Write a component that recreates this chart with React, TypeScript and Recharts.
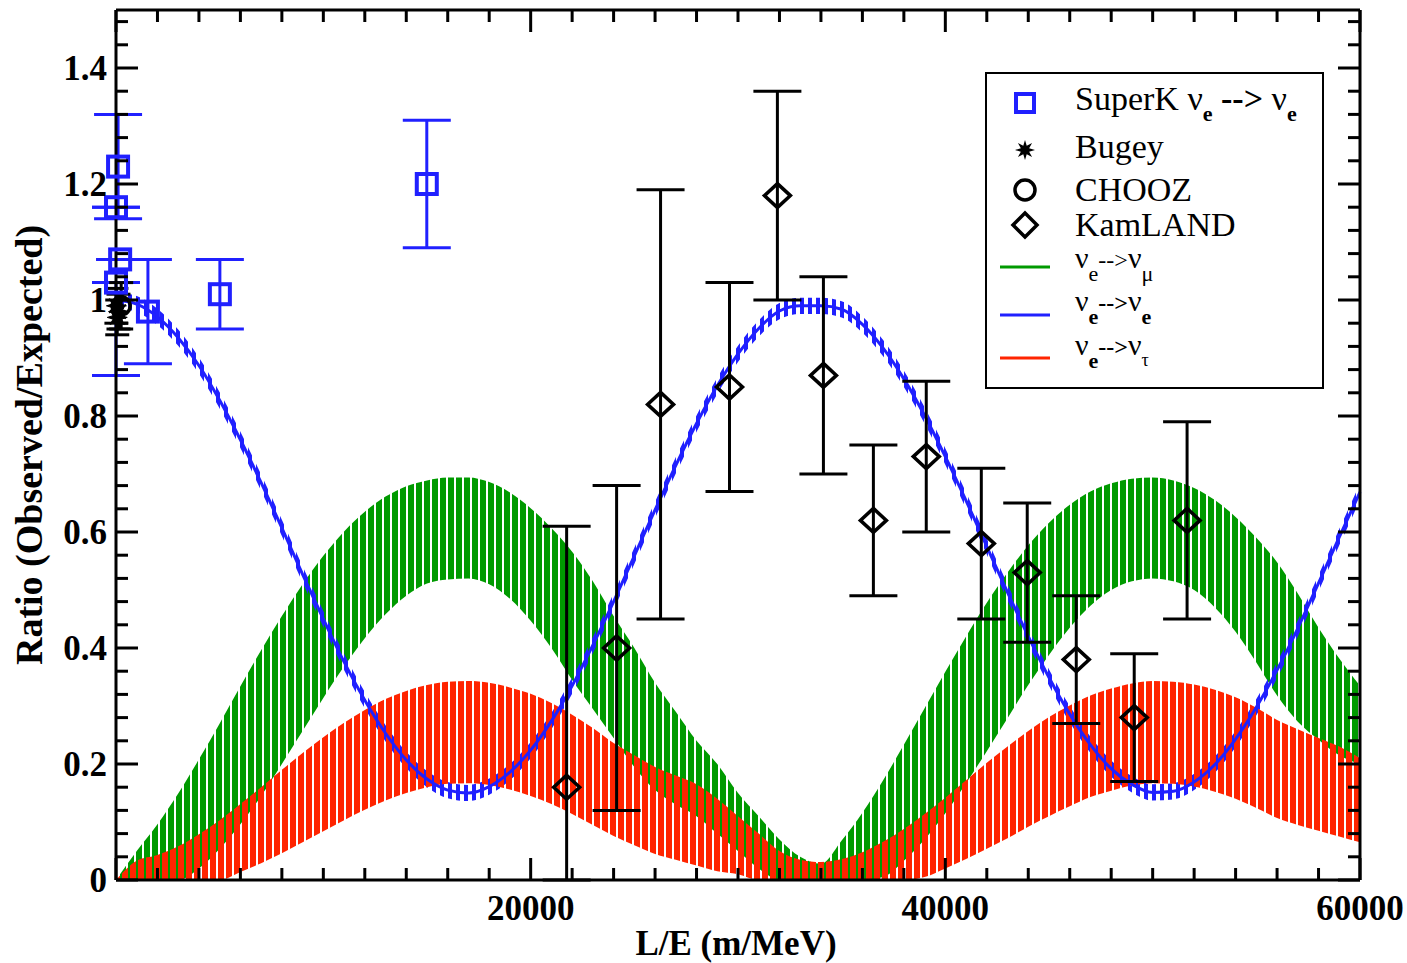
import React from "react";
import { ComposedChart, Area, Line, Scatter, XAxis, YAxis, ErrorBar } from "recharts";

const SERIF = '"Liberation Serif", "Times New Roman", "DejaVu Serif", serif';

// L/E sample positions (m/MeV)
const LE = [
  0, 1000, 2000, 3000, 4000, 5000, 6000, 7000, 8000, 9000, 10000, 11000, 12000, 13000, 14000, 15000,
  16000, 17000, 18000, 19000, 20000, 21000, 22000, 23000, 24000, 25000, 26000, 27000, 28000, 29000, 30000,
  31000, 32000, 33000, 34000, 35000, 36000, 37000, 38000, 39000, 40000, 41000, 42000, 43000, 44000, 45000,
  46000, 47000, 48000, 49000, 50000, 51000, 52000, 53000, 54000, 55000, 56000, 57000, 58000, 59000, 60000,
];

// nu_e -> nu_mu band (lower / upper envelope of the fast oscillation)
const nuMuLow = [
  0, 0, 0, 0, 0.02, 0.054, 0.096, 0.145, 0.2, 0.257, 0.314, 0.368, 0.417, 0.458, 0.49, 0.511, 0.518, 0.52,
  0.51, 0.485, 0.447, 0.4, 0.345, 0.295, 0.245, 0.195, 0.155, 0.13, 0.11, 0.08, 0.05, 0.02, 0, 0, 0, 0, 0,
  0.005, 0.033, 0.07, 0.115, 0.167, 0.222, 0.279, 0.336, 0.388, 0.435, 0.473, 0.5, 0.515, 0.52, 0.515, 0.5,
  0.47, 0.428, 0.375, 0.318, 0.273, 0.242, 0.215, 0.2,
];
const nuMuHigh = [
  0, 0.05, 0.096, 0.149, 0.208, 0.27, 0.334, 0.396, 0.455, 0.51, 0.559, 0.601, 0.635, 0.661, 0.679, 0.689,
  0.694, 0.694, 0.686, 0.668, 0.641, 0.607, 0.566, 0.515, 0.455, 0.4, 0.34, 0.29, 0.24, 0.2, 0.15, 0.11,
  0.07, 0.04, 0.028, 0.068, 0.116, 0.172, 0.233, 0.296, 0.359, 0.42, 0.478, 0.53, 0.577, 0.616, 0.647, 0.67,
  0.684, 0.692, 0.694, 0.689, 0.676, 0.655, 0.626, 0.59, 0.548, 0.494, 0.435, 0.382, 0.335,
];

// nu_e -> nu_tau band
const nuTauLow = [
  0, 0, 0, 0, 0, 0, 0.014, 0.029, 0.046, 0.065, 0.084, 0.103, 0.121, 0.137, 0.15, 0.16, 0.166, 0.167, 0.164,
  0.156, 0.145, 0.131, 0.114, 0.095, 0.076, 0.06, 0.045, 0.035, 0.025, 0.015, 0.01, 0, 0, 0, 0, 0, 0, 0, 0,
  0.005, 0.02, 0.036, 0.054, 0.072, 0.092, 0.11, 0.127, 0.143, 0.154, 0.163, 0.167, 0.166, 0.161, 0.152,
  0.14, 0.124, 0.107, 0.095, 0.085, 0.075, 0.065,
];
const nuTauHigh = [
  0, 0.033, 0.043, 0.058, 0.079, 0.103, 0.131, 0.16, 0.19, 0.219, 0.246, 0.271, 0.293, 0.312, 0.326, 0.336,
  0.342, 0.343, 0.34, 0.332, 0.321, 0.305, 0.285, 0.262, 0.236, 0.215, 0.195, 0.18, 0.165, 0.14, 0.11, 0.08,
  0.05, 0.035, 0.031, 0.036, 0.048, 0.066, 0.088, 0.114, 0.142, 0.172, 0.202, 0.23, 0.257, 0.281, 0.301,
  0.318, 0.33, 0.339, 0.343, 0.342, 0.337, 0.328, 0.315, 0.297, 0.276, 0.26, 0.245, 0.23, 0.21,
];

// nu_e -> nu_e survival
const nuESurvival = [
  1, 0.993, 0.971, 0.935, 0.887, 0.827, 0.759, 0.685, 0.607, 0.527, 0.45, 0.376, 0.31, 0.253, 0.207, 0.174,
  0.155, 0.15, 0.161, 0.186, 0.224, 0.274, 0.335, 0.405, 0.48, 0.559, 0.638, 0.715, 0.787, 0.852, 0.907,
  0.951, 0.981, 0.99, 0.99, 0.984, 0.958, 0.917, 0.864, 0.801, 0.73, 0.654, 0.575, 0.496, 0.42, 0.349,
  0.286, 0.233, 0.192, 0.165, 0.151, 0.153, 0.169, 0.199, 0.243, 0.298, 0.362, 0.434, 0.512, 0.591, 0.669,
];

// SuperK nu_e -> nu_e
const superKLE = [100, 0, 200, 0, 1540, 5010, 14990];
const superKRatio = [1.23, 1.16, 1.07, 1.03, 0.98, 1.01, 1.2];
const superKErrLow = [0.09, 0, 0, 0.16, 0.09, 0.06, 0.11];
const superKErrHigh = [0.09, 0, 0, 0, 0.09, 0.06, 0.11];

// Bugey
const bugeyLE = [20, 60, 120];
const bugeyRatio = [0.99, 0.97, 0.98];
const bugeyErr = [0.03, 0.03, 0.03];

// CHOOZ
const choozLE = [250];
const choozRatio = [0.99];
const choozErr = [0.04];

// KamLAND
const kamLE = [21735, 24145, 26265, 29590, 31900, 34120, 36530, 39080, 41735, 43950, 46315, 49110, 51660];
const kamRatio = [0.16, 0.4, 0.82, 0.85, 1.18, 0.87, 0.62, 0.73, 0.58, 0.53, 0.38, 0.28, 0.62];
const kamErrLow = [0.16, 0.28, 0.37, 0.18, 0.18, 0.17, 0.13, 0.13, 0.13, 0.12, 0.11, 0.11, 0.17];
const kamErrHigh = [0.45, 0.28, 0.37, 0.18, 0.18, 0.17, 0.13, 0.13, 0.13, 0.12, 0.11, 0.11, 0.17];

// axes
const xMajorTicks = [0, 20000, 40000, 60000];
const xTickLabels = ["", "20000", "40000", "60000"];
const yMajorTicks = [0, 0.2, 0.4, 0.6, 0.8, 1.0, 1.2, 1.4];
const yTickLabels = ["0", "0.2", "0.4", "0.6", "0.8", "1", "1.2", "1.4"];
const xAllTicks = Array.from({ length: 31 }, (_, i) => i * 2000);
const yAllTicks = Array.from({ length: 38 }, (_, i) => Math.round(i * 4) / 100);

const GREEN = "#009a00";
const BLUE = "#2020ff";
const RED = "#ff2400";
const BLUE_HALF_WIDTH = 0.014; // visual thickness of the fast-oscillating survival curve

const curveData = LE.map((x, i) => ({
  x,
  mu: [nuMuLow[i], nuMuHigh[i]],
  tau: [nuTauLow[i], nuTauHigh[i]],
  ee: nuESurvival[i],
  eeBand: [nuESurvival[i] - BLUE_HALF_WIDTH, Math.min(1.5, nuESurvival[i] + BLUE_HALF_WIDTH)],
}));
const superKData = superKLE.map((x, i) => ({ x, y: superKRatio[i], err: [superKErrLow[i], superKErrHigh[i]] }));
const bugeyData = bugeyLE.map((x, i) => ({ x, y: bugeyRatio[i], err: [bugeyErr[i], bugeyErr[i]] }));
const choozData = choozLE.map((x, i) => ({ x, y: choozRatio[i], err: [choozErr[i], choozErr[i]] }));
const kamData = kamLE.map((x, i) => ({ x, y: kamRatio[i], err: [kamErrLow[i], kamErrHigh[i]] }));

const yMajorIndex = (v: number) => yMajorTicks.findIndex((t) => Math.abs(t - v) < 1e-6);

function BottomTick(props: any) {
  const { x, y, payload } = props;
  const mi = xMajorTicks.indexOf(payload.value);
  return (
    <g>
      <line x1={x} x2={x} y1={y} y2={y - (mi >= 0 ? 22 : 12)} stroke="#000" strokeWidth={3} />
      {mi > 0 ? (
        <text x={x} y={y + 40} textAnchor="middle" fontSize={35} fontWeight="bold" fontFamily={SERIF} fill="#000">
          {xTickLabels[mi]}
        </text>
      ) : null}
    </g>
  );
}
function TopTick(props: any) {
  const { x, y, payload } = props;
  const mi = xMajorTicks.indexOf(payload.value);
  return <line x1={x} x2={x} y1={y} y2={y + (mi >= 0 ? 22 : 12)} stroke="#000" strokeWidth={3} />;
}
function LeftTick(props: any) {
  const { x, y, payload } = props;
  const mi = yMajorIndex(payload.value);
  return (
    <g>
      <line x1={x} x2={x + (mi >= 0 ? 22 : 12)} y1={y} y2={y} stroke="#000" strokeWidth={3} />
      {mi >= 0 ? (
        <text x={x - 9} y={y + 12} textAnchor="end" fontSize={35} fontWeight="bold" fontFamily={SERIF} fill="#000">
          {yTickLabels[mi]}
        </text>
      ) : null}
    </g>
  );
}
function RightTick(props: any) {
  const { x, y, payload } = props;
  const mi = yMajorIndex(payload.value);
  return <line x1={x} x2={x - (mi >= 0 ? 22 : 12)} y1={y} y2={y} stroke="#000" strokeWidth={3} />;
}

function SquareShape(props: any) {
  const { cx, cy } = props;
  return <rect x={cx - 10} y={cy - 10} width={20} height={20} fill="none" stroke={BLUE} strokeWidth={4} />;
}
function DiamondShape(props: any) {
  const { cx, cy } = props;
  return (
    <polygon
      points={`${cx},${cy - 12} ${cx + 13},${cy} ${cx},${cy + 12} ${cx - 13},${cy}`}
      fill="none"
      stroke="#000"
      strokeWidth={3.5}
    />
  );
}
function starPoints(cx: number, cy: number, ro: number, ri: number) {
  const pts: string[] = [];
  for (let i = 0; i < 16; i++) {
    const r = i % 2 === 0 ? ro : ri;
    const a = (Math.PI * i) / 8 - Math.PI / 2;
    pts.push(`${cx + r * Math.cos(a)},${cy + r * Math.sin(a)}`);
  }
  return pts.join(" ");
}
function StarShape(props: any) {
  const { cx, cy } = props;
  return <polygon points={starPoints(cx, cy, 10, 4.5)} fill="#000" stroke="#000" strokeWidth={1} />;
}
function CircleShape(props: any) {
  const { cx, cy } = props;
  return <circle cx={cx} cy={cy} r={9} fill="none" stroke="#000" strokeWidth={3.5} />;
}

const W = 1407;
const H = 963;

function LegendBox() {
  const ix = 1025;
  const tx = 1075;
  const fs = 34;
  const sub = 22;
  const t = { fontFamily: SERIF, fontSize: fs, fill: "#000" } as const;
  const tn = { fontFamily: SERIF, fontSize: 30, fill: "#000" } as const;
  return (
    <g>
      <rect x={986} y={73} width={337} height={315} fill="#fff" stroke="#000" strokeWidth={2} />
      <rect x={ix - 9} y={103 - 9} width={18} height={18} fill="none" stroke={BLUE} strokeWidth={4} />
      <text x={tx} y={110} {...t}>
        SuperK ν
        <tspan fontSize={sub} fontWeight="bold" dy={11}>e</tspan>
        <tspan dy={-11} fontWeight="bold"> --&gt; </tspan>
        <tspan>ν</tspan>
        <tspan fontSize={sub} fontWeight="bold" dy={11}>e</tspan>
      </text>
      <polygon points={starPoints(ix, 150, 10, 4.5)} fill="#000" />
      <text x={tx} y={158} {...t}>Bugey</text>
      <circle cx={ix} cy={190} r={10} fill="none" stroke="#000" strokeWidth={3.5} />
      <text x={tx} y={201} {...t}>CHOOZ</text>
      <polygon
        points={`${ix},${225 - 12} ${ix + 12},${225} ${ix},${225 + 12} ${ix - 12},${225}`}
        fill="none"
        stroke="#000"
        strokeWidth={3.5}
      />
      <text x={tx} y={236} {...t}>KamLAND</text>

      <line x1={1000} x2={1050} y1={267} y2={267} stroke={GREEN} strokeWidth={3} />
      <text x={tx} y={268} {...tn}>
        ν<tspan fontSize={sub} dy={13}>e</tspan>
        <tspan fontSize={24} dy={-13}>--&gt;</tspan>
        <tspan>ν</tspan>
        <tspan fontSize={sub} dy={13}>μ</tspan>
      </text>

      <line x1={1000} x2={1050} y1={315} y2={315} stroke={BLUE} strokeWidth={3} />
      <text x={tx} y={311} {...tn}>
        ν<tspan fontSize={sub} fontWeight="bold" dy={13}>e</tspan>
        <tspan fontSize={24} fontWeight="bold" dy={-13}>--&gt;</tspan>
        <tspan>ν</tspan>
        <tspan fontSize={sub} fontWeight="bold" dy={13}>e</tspan>
      </text>

      <line x1={1000} x2={1050} y1={358} y2={358} stroke={RED} strokeWidth={3} />
      <text x={tx} y={355} {...tn}>
        ν<tspan fontSize={sub} fontWeight="bold" dy={13}>e</tspan>
        <tspan fontSize={24} fontWeight="bold" dy={-13}>--&gt;</tspan>
        <tspan>ν</tspan>
        <tspan fontSize={sub - 4} dy={11}>τ</tspan>
      </text>
    </g>
  );
}

export default function App() {
  return (
    <div style={{ position: "relative", width: W, height: H, background: "#fff", overflow: "visible" }}>
      <style>{"html, body { margin: 0; padding: 0; } #root { overflow: visible; }"}</style>
      <svg width={0} height={0} style={{ position: "absolute" }}>
        <defs>
          <pattern id="muStripes" patternUnits="userSpaceOnUse" width={8} height={8}>
            <rect x={0} y={0} width={6} height={8} fill={GREEN} />
          </pattern>
          <pattern id="tauStripes" patternUnits="userSpaceOnUse" width={8} height={8}>
            <rect x={2} y={0} width={6} height={8} fill={RED} />
          </pattern>
          <pattern id="eeStripes" patternUnits="userSpaceOnUse" width={8} height={8}>
            <rect x={0} y={0} width={4} height={8} fill={BLUE} />
          </pattern>
        </defs>
      </svg>
      <ComposedChart width={W} height={H} data={curveData} margin={{ top: 9, right: 46, bottom: 0, left: 0 }}>
        <XAxis
          xAxisId="x"
          dataKey="x"
          type="number"
          domain={[0, 60000]}
          ticks={xAllTicks}
          interval={0}
          tickSize={0}
          tickMargin={0}
          tickLine={false}
          tick={BottomTick}
          height={83}
          axisLine={{ stroke: "#000", strokeWidth: 3 }}
        />
        <XAxis
          xAxisId="top"
          orientation="top"
          dataKey="x"
          type="number"
          domain={[0, 60000]}
          ticks={xAllTicks}
          interval={0}
          tickSize={0}
          tickMargin={0}
          tickLine={false}
          tick={TopTick}
          height={1}
          axisLine={{ stroke: "#000", strokeWidth: 3 }}
        />
        <YAxis
          yAxisId="y"
          type="number"
          domain={[0, 1.5]}
          ticks={yAllTicks}
          interval={0}
          tickSize={0}
          tickMargin={0}
          tickLine={false}
          tick={LeftTick}
          width={116}
          axisLine={{ stroke: "#000", strokeWidth: 3 }}
        />
        <YAxis
          yAxisId="right"
          orientation="right"
          type="number"
          domain={[0, 1.5]}
          ticks={yAllTicks}
          interval={0}
          tickSize={0}
          tickMargin={0}
          tickLine={false}
          tick={RightTick}
          width={1}
          axisLine={{ stroke: "#000", strokeWidth: 3 }}
        />

        <Area
          xAxisId="x"
          yAxisId="y"
          dataKey="mu"
          type="monotone"
          stroke="none"
          fill="url(#muStripes)"
          fillOpacity={1}
          isAnimationActive={false}
          dot={false}
          activeDot={false}
        />
        <Area
          xAxisId="top"
          yAxisId="right"
          dataKey="eeBand"
          type="monotone"
          stroke="none"
          fill="url(#eeStripes)"
          fillOpacity={1}
          isAnimationActive={false}
          dot={false}
          activeDot={false}
        />
        <Line
          xAxisId="top"
          yAxisId="right"
          dataKey="ee"
          type="monotone"
          stroke={BLUE}
          strokeWidth={3}
          dot={false}
          activeDot={false}
          isAnimationActive={false}
        />
        <Area
          xAxisId="x"
          yAxisId="y"
          dataKey="tau"
          type="monotone"
          stroke="none"
          fill="url(#tauStripes)"
          fillOpacity={1}
          isAnimationActive={false}
          dot={false}
          activeDot={false}
        />

        <Scatter xAxisId="x" yAxisId="y" data={superKData} dataKey="y" shape={SquareShape} isAnimationActive={false}>
          <ErrorBar dataKey="err" direction="y" width={24} stroke={BLUE} strokeWidth={3} isAnimationActive={false} />
        </Scatter>
        <Scatter xAxisId="x" yAxisId="y" data={bugeyData} dataKey="y" shape={StarShape} isAnimationActive={false}>
          <ErrorBar dataKey="err" direction="y" width={12} stroke="#000" strokeWidth={3} isAnimationActive={false} />
        </Scatter>
        <Scatter xAxisId="x" yAxisId="y" data={choozData} dataKey="y" shape={CircleShape} isAnimationActive={false}>
          <ErrorBar dataKey="err" direction="y" width={12} stroke="#000" strokeWidth={3} isAnimationActive={false} />
        </Scatter>
        <Scatter xAxisId="x" yAxisId="y" data={kamData} dataKey="y" shape={DiamondShape} isAnimationActive={false}>
          <ErrorBar dataKey="err" direction="y" width={24} stroke="#000" strokeWidth={3} isAnimationActive={false} />
        </Scatter>
      </ComposedChart>
      <svg
        width={W}
        height={H}
        style={{ position: "absolute", left: 0, top: 0, pointerEvents: "none", overflow: "visible" }}
      >
        <LegendBox />
        <text x={736} y={955} textAnchor="middle" fontSize={35} fontWeight="bold" fontFamily={SERIF} fill="#000">
          L/E (m/MeV)
        </text>
        <text
          x={42}
          y={445}
          textAnchor="middle"
          fontSize={38}
          fontWeight="bold"
          fontFamily={SERIF}
          fill="#000"
          transform="rotate(-90 42 445)"
        >
          Ratio (Observed/Expected)
        </text>
      </svg>
    </div>
  );
}
